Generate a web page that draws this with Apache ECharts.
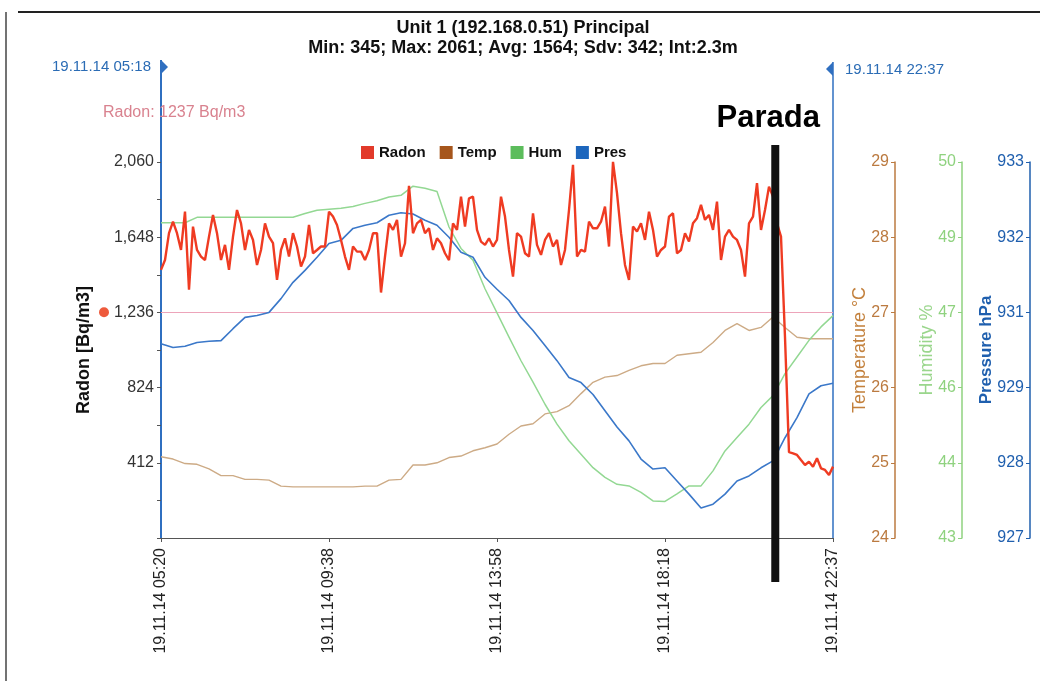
<!DOCTYPE html>
<html>
<head>
<meta charset="utf-8">
<script src="https://cdn.jsdelivr.net/npm/echarts@6/dist/echarts.min.js"></script>
<style>
  html, body { margin: 0; padding: 0; background: #fff; }
  #chart { width: 1046px; height: 681px; }
</style>
</head>
<body>
<div id="chart"></div>
<script>
// ---- Chart text ----
const titleLine = 'Unit 1 (192.168.0.51) Principal';
const statsLine = 'Min: 345; Max: 2061; Avg: 1564; Sdv: 342; Int:2.3m';
const seriesNames = ['Radon', 'Temp', 'Hum', 'Pres'];
const cursorStartLabel = '19.11.14 05:18';
const cursorEndLabel = '19.11.14 22:37';
const thresholdLabel = 'Radon: 1237 Bq/m3';
const stopLabel = 'Parada';

// ---- Time axis: minutes after 19.11.14 05:20 ----
const spanMinutes = 1036;
const xTickLabels = ['19.11.14 05:20', '19.11.14 09:38', '19.11.14 13:58', '19.11.14 18:18', '19.11.14 22:37'];
const stopMinute = 947;          // instant of the "Parada" marker
const radonThreshold = 1237;     // Bq/m3

// ---- Radon [Bq/m3], evenly sampled over the span ----
const radon = [
  1469, 1523, 1670, 1733, 1670, 1578, 1788, 1360, 1706, 1578,
  1542, 1523, 1651, 1770, 1670, 1523, 1606, 1469, 1651, 1797,
  1724, 1578, 1688, 1633, 1496, 1578, 1724, 1651, 1615, 1414,
  1578, 1642, 1542, 1670, 1597, 1487, 1542, 1715, 1560, 1578,
  1597, 1597, 1788, 1761, 1715, 1633, 1542, 1469, 1597, 1569,
  1569, 1523, 1578, 1670, 1670, 1345, 1542, 1724, 1688, 1743,
  1542, 1615, 1930, 1670, 1724, 1743, 1670, 1697, 1578, 1642,
  1615, 1560, 1523, 1724, 1688, 1870, 1706, 1861, 1870, 1688,
  1624, 1606, 1642, 1597, 1633, 1870, 1761, 1578, 1432, 1670,
  1651, 1560, 1542, 1779, 1606, 1551, 1633, 1670, 1597, 1633,
  1496, 1578, 1797, 2045, 1542, 1578, 1569, 1733, 1697, 1697,
  1733, 1816, 1597, 2061, 1889, 1670, 1496, 1414, 1706, 1679,
  1724, 1633, 1788, 1688, 1542, 1578, 1597, 1761, 1779, 1560,
  1578, 1670, 1624, 1724, 1752, 1825, 1743, 1770, 1688, 1843,
  1523, 1651, 1688, 1651, 1633, 1578, 1432, 1724, 1761, 1944,
  1688, 1797, 1925, 1870, 1724, 1651, 1100, 470, 464, 455,
  427, 400, 418, 391, 437, 382, 373, 345, 391
];

// ---- Temperature [°C] ----
const temp = [
  25.08, 25.05, 24.99, 24.98, 24.92, 24.83, 24.83, 24.78, 24.78, 24.77,
  24.69, 24.68, 24.68, 24.68, 24.68, 24.68, 24.68, 24.69, 24.69, 24.77,
  24.78, 24.97, 24.97, 25.00, 25.07, 25.09, 25.16, 25.20, 25.25, 25.38,
  25.49, 25.52, 25.65, 25.68, 25.76, 25.92, 26.07, 26.14, 26.16, 26.23,
  26.29, 26.32, 26.32, 26.43, 26.45, 26.47, 26.60, 26.76, 26.85, 26.76,
  26.80, 26.94, 26.80, 26.67, 26.65, 26.65, 26.65
];

// ---- Humidity [%] ----
const hum = [
  48.87, 48.87, 48.87, 48.97, 48.97, 48.97, 48.97, 48.97, 48.97, 48.97,
  48.97, 48.97, 49.04, 49.10, 49.12, 49.14, 49.17, 49.23, 49.28, 49.35,
  49.38, 49.55, 49.51, 49.45, 48.79, 48.39, 48.17, 47.64, 47.19, 46.74,
  46.30, 45.90, 45.49, 45.12, 44.81, 44.56, 44.31, 44.13, 44.00, 43.97,
  43.85, 43.69, 43.68, 43.82, 43.97, 43.97, 44.25, 44.62, 44.87, 45.12,
  45.43, 45.65, 46.06, 46.37, 46.68, 46.93, 47.14
];

// ---- Pressure [hPa] ----
const pres = [
  930.10, 930.04, 930.06, 930.12, 930.14, 930.15, 930.34, 930.52, 930.55, 930.60,
  930.82, 931.08, 931.27, 931.48, 931.70, 931.75, 931.94, 931.99, 932.03, 932.15,
  932.19, 932.17, 932.07, 931.99, 931.80, 931.56, 931.48, 931.16, 930.97, 930.79,
  930.52, 930.31, 930.07, 929.83, 929.56, 929.48, 929.29, 929.03, 928.77, 928.55,
  928.26, 928.10, 928.12, 927.91, 927.70, 927.48, 927.54, 927.70, 927.91, 927.99,
  928.12, 928.23, 928.60, 928.92, 929.30, 929.43, 929.47
];

// Spread an evenly sampled series over the time span
function timed(values) {
  const step = spanMinutes / (values.length - 1);
  return values.map((v, i) => [i * step, v]);
}

const FONT = '"Liberation Sans", Arial, sans-serif';
const colors = {
  radon: '#ef3b22', radonKey: '#e23a2a',
  temp: '#cdab86', tempKey: '#a6561c', tempAxis: '#bb7a40',
  hum: '#93d893', humKey: '#5cbd5c', humAxis: '#8fd27f',
  pres: '#3b78c9', presKey: '#1d66bd', presAxis: '#1f5fae',
  cursor: '#2f6fc0', threshold: '#eda4ba'
};

const chart = echarts.init(document.getElementById('chart'), null, { renderer: 'canvas' });

// Right-hand axes: labels and names sit on the inner (left) side of each axis line
function rightAxis(cfg) {
  return {
    type: 'value', position: 'right', offset: cfg.offset,
    min: cfg.min, max: cfg.max, interval: cfg.interval,
    splitLine: { show: false },
    axisLine: { show: true, lineStyle: { color: cfg.color, width: 1.5 } },
    axisTick: { show: true, inside: true, length: 4, lineStyle: { color: cfg.color } },
    axisLabel: {
      inside: true, margin: 6, fontFamily: FONT, fontSize: 16, color: cfg.color,
      formatter: v => String(Math.round(v))
    },
    name: cfg.name, nameLocation: 'middle', nameRotate: 90, nameGap: cfg.nameGap,
    nameMoveOverlap: false,
    nameTextStyle: { fontFamily: FONT, fontSize: cfg.nameSize, fontWeight: cfg.nameWeight, color: cfg.nameColor }
  };
}

const option = {
  animation: false,
  backgroundColor: '#fff',
  title: {
    text: titleLine,
    subtext: statsLine,
    left: 'center',
    top: 14,
    itemGap: 2,
    textStyle: { fontFamily: FONT, fontSize: 18, fontWeight: 'bold', color: '#111' },
    subtextStyle: { fontFamily: FONT, fontSize: 18, fontWeight: 'bold', color: '#111' }
  },
  legend: {
    left: 356,
    top: 140,
    itemWidth: 13,
    itemHeight: 13,
    itemGap: 14,
    selectedMode: false,
    icon: 'rect',
    textStyle: { fontFamily: FONT, fontSize: 15, fontWeight: 'bold', color: '#111' },
    data: [
      { name: 'Radon', itemStyle: { color: colors.radonKey } },
      { name: 'Temp', itemStyle: { color: colors.tempKey } },
      { name: 'Hum', itemStyle: { color: colors.humKey } },
      { name: 'Pres', itemStyle: { color: colors.presKey } }
    ]
  },
  grid: { left: 161, right: 213, top: 162, bottom: 143, outerBoundsMode: 'none', containLabel: false },
  xAxis: {
    type: 'value',
    min: 0,
    max: spanMinutes,
    interval: spanMinutes / 4,
    splitLine: { show: false },
    axisLine: { show: true, lineStyle: { color: '#555', width: 1 } },
    axisTick: { show: true, length: 4, lineStyle: { color: '#555' } },
    axisLabel: {
      rotate: 90,
      margin: 10,
      fontFamily: FONT,
      fontSize: 16,
      color: '#222',
      formatter: v => xTickLabels[Math.round(v / (spanMinutes / 4))]
    }
  },
  yAxis: [
    {
      type: 'value', position: 'left', min: 0, max: 2060, interval: 412,
      splitLine: { show: false },
      axisLine: { show: true, lineStyle: { color: colors.cursor, width: 2 } },
      axisTick: { show: true, length: 4, lineStyle: { color: '#555' } },
      minorTick: { show: true, splitNumber: 2, length: 4, lineStyle: { color: '#555' } },
      axisLabel: {
        fontFamily: FONT, fontSize: 16, color: '#333', margin: 7,
        formatter: v => (v === 0 ? '' : v.toLocaleString('en-US'))
      },
      name: 'Radon [Bq/m3]', nameLocation: 'middle', nameRotate: 90, nameGap: 68,
      nameTextStyle: { fontFamily: FONT, fontSize: 18, fontWeight: 'bold', color: '#111' }
    },
    rightAxis({ offset: 62, min: 24, max: 29, interval: 1, color: colors.tempAxis,
      name: 'Temperature °C', nameGap: -44, nameSize: 18, nameWeight: 'normal', nameColor: '#c3803c' }),
    rightAxis({ offset: 129, min: 43, max: 50, interval: 1.4, color: colors.humAxis,
      name: 'Humidity %', nameGap: -44, nameSize: 18, nameWeight: 'normal', nameColor: '#9ad68c' }),
    rightAxis({ offset: 197, min: 927, max: 933, interval: 1.2, color: colors.presAxis,
      name: 'Pressure hPa', nameGap: -52, nameSize: 17, nameWeight: 'bold', nameColor: colors.presAxis })
  ],
  series: [
    {
      name: 'Radon', type: 'line', yAxisIndex: 0, z: 5,
      data: timed(radon), showSymbol: false, symbol: 'none',
      itemStyle: { color: colors.radonKey },
      lineStyle: { color: colors.radon, width: 2.4 },
      markLine: {
        silent: true, symbol: ['none', 'none'], z: 1,
        label: { show: false },
        lineStyle: { color: colors.threshold, width: 1.2, type: 'solid' },
        data: [{ yAxis: radonThreshold }]
      }
    },
    {
      name: 'Temp', type: 'line', yAxisIndex: 1, z: 3,
      data: timed(temp), showSymbol: false, symbol: 'none',
      itemStyle: { color: colors.tempKey },
      lineStyle: { color: colors.temp, width: 1.4 }
    },
    {
      name: 'Hum', type: 'line', yAxisIndex: 2, z: 3,
      data: timed(hum), showSymbol: false, symbol: 'none',
      itemStyle: { color: colors.humKey },
      lineStyle: { color: colors.hum, width: 1.5 }
    },
    {
      name: 'Pres', type: 'line', yAxisIndex: 3, z: 4,
      data: timed(pres), showSymbol: false, symbol: 'none',
      itemStyle: { color: colors.presKey },
      lineStyle: { color: colors.pres, width: 1.6 }
    }
  ]
};

chart.setOption(option);

// Cursors, threshold dot and the stop marker, placed from the axes' own scales
const px = v => chart.convertToPixel({ xAxisIndex: 0 }, v);
const py = v => chart.convertToPixel({ yAxisIndex: 0 }, v);
const xStart = px(0), xEnd = px(spanMinutes);
const yTop = py(2060), yBottom = py(0);
const xStop = px(stopMinute);
const yThreshold = py(radonThreshold);

chart.setOption({
  graphic: [
    // page frame
    { type: 'line', shape: { x1: 18, y1: 12, x2: 1040, y2: 12 }, style: { stroke: '#222', lineWidth: 2 } },
    { type: 'line', shape: { x1: 6, y1: 12, x2: 6, y2: 681 }, style: { stroke: '#444', lineWidth: 1.5 } },
    // start cursor
    { type: 'line', shape: { x1: xStart, y1: 60, x2: xStart, y2: yTop }, style: { stroke: colors.cursor, lineWidth: 2 } },
    { type: 'polygon', shape: { points: [[xStart, 60], [xStart + 7, 67], [xStart, 74]] }, style: { fill: colors.cursor } },
    { type: 'text', x: xStart - 10, y: 67, style: { text: cursorStartLabel, fill: '#2b6cb5', font: '15px ' + FONT, align: 'right', verticalAlign: 'middle' } },
    // end cursor
    { type: 'line', shape: { x1: xEnd, y1: 62, x2: xEnd, y2: yBottom }, style: { stroke: colors.cursor, lineWidth: 1.5 } },
    { type: 'polygon', shape: { points: [[xEnd, 62], [xEnd - 7, 69], [xEnd, 76]] }, style: { fill: colors.cursor } },
    { type: 'text', x: xEnd + 12, y: 70, style: { text: cursorEndLabel, fill: '#2b6cb5', font: '15px ' + FONT, align: 'left', verticalAlign: 'middle' } },
    // radon threshold
    { type: 'text', x: 103, y: 113, z: 10, style: { text: thresholdLabel, fill: '#d9828f', font: '16px ' + FONT, align: 'left', verticalAlign: 'middle' } },
    { type: 'circle', shape: { cx: 104, cy: yThreshold, r: 5 }, style: { fill: '#ee5a3c' } },
    // stop marker
    { type: 'rect', z: 20, shape: { x: xStop - 4, y: 145, width: 8, height: 437 }, style: { fill: '#111' } },
    { type: 'text', x: xStop - 7, y: 118, z: 20, style: { text: stopLabel, fill: '#000', font: 'bold 31px ' + FONT, align: 'center', verticalAlign: 'middle' } }
  ]
});
</script>
</body>
</html>
